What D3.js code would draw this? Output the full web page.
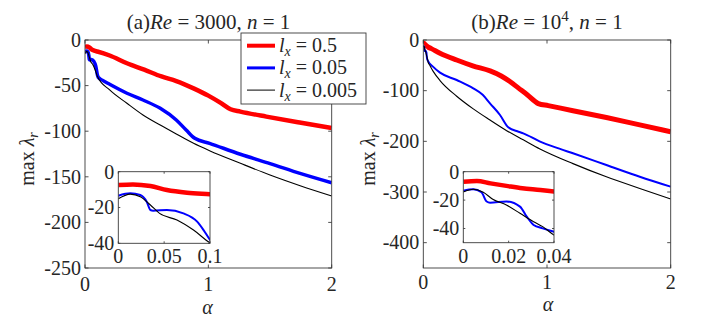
<!DOCTYPE html>
<html>
<head>
<meta charset="utf-8">
<script src="https://cdn.jsdelivr.net/npm/d3@7"></script>
<style>
body { margin: 0; background: #fff; }
svg text { font-family: "Liberation Serif", "Times New Roman", "DejaVu Serif", serif; fill: #262626; }
</style>
</head>
<body>
<div id="fig"></div>
<script>
// ---- data ----
// (a) Re = 3000
var aRedX   = [0, 0.016, 0.035, 0.053, 0.075, 0.1, 0.2, 0.34, 0.48, 0.62, 0.74, 0.88, 1.0, 1.1, 1.18, 1.26, 1.47, 1.74, 2.0];
var aRedY   = [-7.4, -7.1, -8, -10.2, -11.7, -12.6, -17, -25.5, -32.5, -40, -45, -53, -61, -69, -76, -78.5, -84, -90.5, -96.5];
var aBlueX  = [0, 0.013, 0.024, 0.031, 0.035, 0.038, 0.053, 0.071, 0.086, 0.093, 0.1, 0.108, 0.14, 0.2, 0.34, 0.47, 0.61, 0.74, 0.82, 0.89, 1.01, 1.26, 1.5, 1.75, 2.0];
var aBlueY  = [-13.4, -12.1, -13, -16.8, -21.4, -21.8, -21.4, -23.3, -27.9, -32.6, -38, -41, -44, -48.6, -58.4, -65.8, -74.9, -87.7, -98.7, -107.8, -113.3, -125.3, -135.5, -146.5, -156.5];
var aBlackX = [0, 0.013, 0.024, 0.035, 0.045, 0.064, 0.082, 0.1, 0.2, 0.34, 0.47, 0.61, 0.74, 0.88, 1.01, 1.26, 1.5, 1.75, 2.0];
var aBlackY = [-15.1, -12.5, -14, -18.6, -23.3, -27, -32.6, -39.7, -54.8, -69.4, -82.2, -93.2, -103, -113.3, -121.4, -135.2, -148, -160, -171];

// (b) Re = 10^4
var bRedX   = [0, 0.006, 0.012, 0.019, 0.026, 0.034, 0.04, 0.065, 0.135, 0.27, 0.4, 0.54, 0.63, 0.7, 0.77, 0.84, 0.93, 1.01, 1.21, 1.48, 1.75, 2.0];
var bRedY   = [-7, -6.5, -8.2, -10, -11.7, -12.9, -14, -17, -26, -39.5, -51, -61, -71, -82, -95, -108, -125.5, -129.5, -139.5, -153, -167.5, -181];
var bBlueX  = [0, 0.0044, 0.008, 0.0103, 0.0118, 0.019, 0.025, 0.028, 0.031, 0.035, 0.04, 0.078, 0.135, 0.27, 0.404, 0.48, 0.539, 0.62, 0.687, 0.77, 0.808, 0.94, 1.1, 1.21, 1.48, 1.75, 2.0];
var bBlueY  = [-13.4, -12.4, -14.5, -21, -21.8, -21, -24.6, -31.7, -37.5, -39.9, -42.3, -52.6, -64.5, -79, -95.4, -108, -125, -148, -172.4, -181, -184.2, -200, -214.5, -223.6, -246.7, -269.8, -289.5];
var bBlackX = [0, 0.0044, 0.0088, 0.013, 0.019, 0.025, 0.031, 0.035, 0.04, 0.05, 0.08, 0.135, 0.27, 0.404, 0.539, 0.674, 0.808, 0.943, 1.21, 1.48, 1.75, 2.0];
var bBlackY = [-14.3, -12.4, -14.5, -19.4, -23.5, -29.3, -35.2, -38.7, -44.6, -49, -62, -80, -111, -136, -158, -179, -197, -215, -244, -270, -293, -313.8];

// tick values
var mainXTicks = [0, 1, 2];
var aYTicks = [0, -50, -100, -150, -200, -250];
var bYTicks = [0, -100, -200, -300, -400];
var aInsetXTicks = [0, 0.05, 0.1];
var bInsetXTicks = [0, 0.02, 0.04];
var insetYTicks = [0, -20, -40];

var legendLabels = ["0.5", "0.05", "0.005"];
var seriesColors = ["#ff0000", "#0000ff", "#000000"];

// ---- drawing ----
var FONT = "'Liberation Serif', 'Times New Roman', 'DejaVu Serif', serif";

var svg = d3.select("#fig")
  .append("svg")
    .attr("width", 706)
    .attr("height", 328)
    .attr("font-family", FONT);

var clipId = 0;

// one set of axes: box, inward ticks on all four sides, labels, clipped lines
function drawAxes(cfg) {
  var x = d3.scaleLinear().domain(cfg.xdom).range([cfg.left, cfg.right]);
  var y = d3.scaleLinear().domain(cfg.ydom).range([cfg.bottom, cfg.top]);
  var g = svg.append("g");

  g.append("rect")
    .attr("x", cfg.left).attr("y", cfg.top)
    .attr("width", cfg.right - cfg.left).attr("height", cfg.bottom - cfg.top)
    .style("fill", "white");

  var id = "clip" + (clipId++);
  g.append("clipPath").attr("id", id)
    .append("rect")
    .attr("x", cfg.left).attr("y", cfg.top)
    .attr("width", cfg.right - cfg.left).attr("height", cfg.bottom - cfg.top);

  var line = d3.line()
    .x(function(d) { return x(d[0]); })
    .y(function(d) { return y(d[1]); })
    .curve(d3.curveMonotoneX);

  cfg.series.forEach(function(s) {
    g.append("path")
      .attr("clip-path", "url(#" + id + ")")
      .attr("d", line(d3.zip(s.x, s.y)))
      .style("fill", "none")
      .style("stroke", s.color)
      .style("stroke-width", s.width)
      .style("stroke-linejoin", "round");
  });

  var tl = cfg.tick;
  var tickG = g.append("g").style("stroke", "#262626").style("stroke-width", 0.8);
  cfg.xticks.forEach(function(t) {
    tickG.append("line").attr("x1", x(t)).attr("x2", x(t)).attr("y1", cfg.bottom).attr("y2", cfg.bottom - tl);
    tickG.append("line").attr("x1", x(t)).attr("x2", x(t)).attr("y1", cfg.top).attr("y2", cfg.top + tl);
  });
  cfg.yticks.forEach(function(t) {
    tickG.append("line").attr("y1", y(t)).attr("y2", y(t)).attr("x1", cfg.left).attr("x2", cfg.left + tl);
    tickG.append("line").attr("y1", y(t)).attr("y2", y(t)).attr("x1", cfg.right).attr("x2", cfg.right - tl);
  });

  g.append("rect")
    .attr("x", cfg.left).attr("y", cfg.top)
    .attr("width", cfg.right - cfg.left).attr("height", cfg.bottom - cfg.top)
    .style("fill", "none")
    .style("stroke", "#3a3a3a")
    .style("stroke-width", 0.9);

  g.selectAll(".xl")
    .data(cfg.xticks)
    .enter().append("text")
      .attr("x", function(d) { return x(d); })
      .attr("y", cfg.xLabelY)
      .attr("text-anchor", "middle")
      .style("font-size", "20px")
      .text(function(d) { return String(d); });

  g.selectAll(".yl")
    .data(cfg.yticks)
    .enter().append("text")
      .attr("x", cfg.left - 4)
      .attr("y", function(d) { return y(d); })
      .attr("dy", "0.34em")
      .attr("text-anchor", "end")
      .style("font-size", "20px")
      .text(function(d) { return String(d); });

  return g;
}

function series(xs, ys, widths) {
  return [
    {x: xs[0], y: ys[0], color: seriesColors[0], width: widths[0]},
    {x: xs[1], y: ys[1], color: seriesColors[1], width: widths[1]},
    {x: xs[2], y: ys[2], color: seriesColors[2], width: widths[2]}
  ];
}

var aX = [aRedX, aBlueX, aBlackX], aY = [aRedY, aBlueY, aBlackY];
var bX = [bRedX, bBlueX, bBlackX], bY = [bRedY, bBlueY, bBlackY];

// panel (a)
drawAxes({left: 85, right: 331.7, top: 40, bottom: 268, xdom: [0, 2], ydom: [-250, 0],
  xticks: mainXTicks, yticks: aYTicks, tick: 3.5, xLabelY: 291,
  series: series(aX, aY, [4.5, 3.5, 1.1])});
drawAxes({left: 118.3, right: 210, top: 171.7, bottom: 243.3, xdom: [0, 0.1], ydom: [-40, 0],
  xticks: aInsetXTicks, yticks: insetYTicks, tick: 2, xLabelY: 263.3,
  series: series(aX, aY, [4.5, 2, 1.1])});

// panel (b)
drawAxes({left: 423.3, right: 670.7, top: 40, bottom: 268, xdom: [0, 2], ydom: [-450, 0],
  xticks: mainXTicks, yticks: bYTicks, tick: 3.5, xLabelY: 288.5,
  series: series(bX, bY, [5, 2, 1.1])});
drawAxes({left: 463.3, right: 554, top: 171.7, bottom: 242.7, xdom: [0, 0.04], ydom: [-50, 0],
  xticks: bInsetXTicks, yticks: insetYTicks, tick: 2, xLabelY: 263.3,
  series: series(bX, bY, [4.5, 2, 1.1])});

// titles
var t1 = svg.append("text").attr("x", 208.5).attr("y", 28.5).attr("text-anchor", "middle").style("font-size", "21px");
t1.append("tspan").text("(a)");
t1.append("tspan").style("font-style", "italic").text("Re");
t1.append("tspan").text(" = 3000, ");
t1.append("tspan").style("font-style", "italic").text("n");
t1.append("tspan").text(" = 1");

var t2 = svg.append("text").attr("x", 547).attr("y", 28.5).attr("text-anchor", "middle").style("font-size", "21px");
t2.append("tspan").text("(b)");
t2.append("tspan").style("font-style", "italic").text("Re");
t2.append("tspan").text(" = 10");
t2.append("tspan").attr("dy", -8).style("font-size", "15px").text("4");
t2.append("tspan").attr("dy", 8).text(", ");
t2.append("tspan").style("font-style", "italic").text("n");
t2.append("tspan").text(" = 1");

// axis labels
function ylab(xpos) {
  var t = svg.append("text")
    .attr("transform", "translate(" + xpos + ",159) rotate(-90)")
    .attr("text-anchor", "middle")
    .style("font-size", "20px");
  t.append("tspan").text("max ");
  t.append("tspan").style("font-style", "italic").text("λ");
  t.append("tspan").attr("dy", 4).style("font-style", "italic").style("font-size", "14px").text("r");
}
ylab(33.5);
ylab(375);

svg.append("text").attr("x", 207.5).attr("y", 314).attr("text-anchor", "middle")
  .style("font-size", "20px").style("font-style", "italic").text("α");
svg.append("text").attr("x", 548).attr("y", 311).attr("text-anchor", "middle")
  .style("font-size", "20px").style("font-style", "italic").text("α");

// legend
var leg = svg.append("g");
leg.append("rect")
  .attr("x", 241).attr("y", 33).attr("width", 125).attr("height", 71)
  .style("fill", "white").style("stroke", "#3a3a3a").style("stroke-width", 0.9);
var legW = [4, 3, 1];
legendLabels.forEach(function(lab, i) {
  var cy = 45.7 + i * 22.2;
  leg.append("line")
    .attr("x1", 247).attr("x2", 275).attr("y1", cy).attr("y2", cy)
    .style("stroke", seriesColors[i]).style("stroke-width", legW[i]);
  var t = leg.append("text").attr("x", 279).attr("y", cy + 6.5).style("font-size", "20px");
  t.append("tspan").style("font-style", "italic").text("l");
  t.append("tspan").attr("dy", 4).style("font-style", "italic").style("font-size", "14px").text("x");
  t.append("tspan").attr("dy", -4).text(" = " + lab);
});
</script>
</body>
</html>
